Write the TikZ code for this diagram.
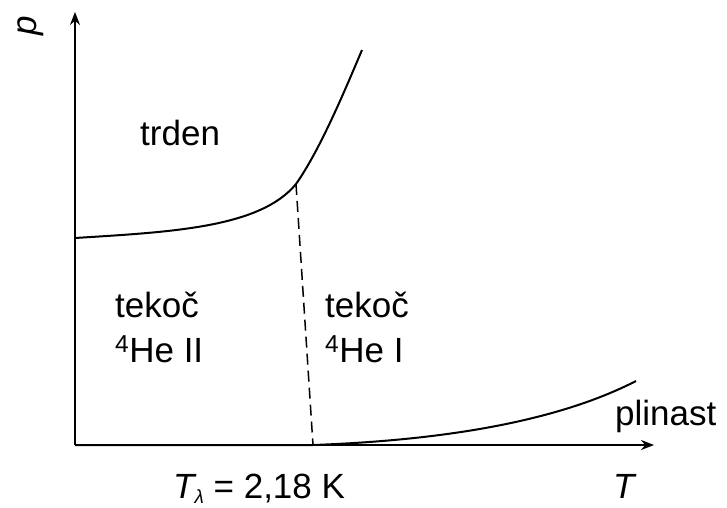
\documentclass[tikz,border=0pt]{standalone}
\usepackage{fontspec}
\setmainfont{Liberation Sans}
\usetikzlibrary{arrows.meta}
\begin{document}
\begin{tikzpicture}[x=1pt,y=-1pt,
  lbl/.style={font=\fontsize{35}{42}\selectfont, inner sep=0pt, anchor=base west},
  axis/.style={line width=2pt,-{Stealth[length=13pt,width=10pt]}},
  curve/.style={line width=2pt},
  lam/.style={line width=1.5pt,dash pattern=on 11pt off 6pt}]
\useasboundingbox (0,0) rectangle (727,507);
\coordinate (O) at (75,445);
\coordinate (ytip) at (75,12);
\coordinate (xtip) at (654,445);
\draw[axis] (O) -- (ytip);
\draw[axis] (O) -- (xtip);
\node[lbl, anchor=center, rotate=90] (p) at (31,26) {\itshape p};
\node[lbl] (T) at (613,498) {\itshape T};
\node[lbl] (Tl) at (173,498) {\itshape T\raisebox{-5pt}{\fontsize{19}{22}\selectfont\itshape λ}\upshape{} = 2,18 K};
% melting curve
\coordinate (m0) at (75,238);
\coordinate (lp) at (296,184);
\coordinate (m1) at (362,50);
\draw[curve] (m0) .. controls (170,232) and (260,228) .. (lp) .. controls (320,150) and (345,90) .. (m1);
% lambda line
\coordinate (lb) at (313,445);
\draw[lam] (lp) -- (lb);
% vapor curve
\coordinate (v1) at (636,381);
\draw[curve] (O) -- (lb) .. controls (450,440) and (560,420) .. (v1);
\node[lbl] (trden) at (140,145) {trden};
\node[lbl] (t1) at (115,317) {tekoč};
\node[lbl] (h1) at (115,362) {\textsuperscript{4}He II};
\node[lbl] (t2) at (325,317) {tekoč};
\node[lbl] (h2) at (325,362) {\textsuperscript{4}He I};
\node[lbl] (pl) at (615,425) {plinast};
\end{tikzpicture}
\end{document}
